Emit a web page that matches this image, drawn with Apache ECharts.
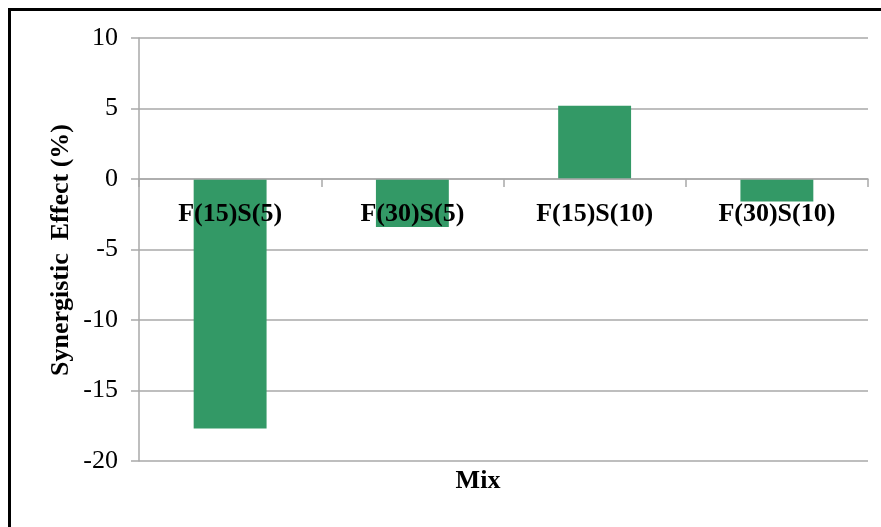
<!DOCTYPE html>
<html>
<head>
<meta charset="utf-8">
<script src="https://cdn.jsdelivr.net/npm/echarts@6/dist/echarts.min.js"></script>
<style>
  html, body { margin: 0; padding: 0; background: #fff; }
  #chart { width: 881px; height: 527px; }
</style>
</head>
<body>
<div id="chart"></div>
<script>
// Synergistic effect of each mix
const categories = ['F(15)S(5)', 'F(30)S(5)', 'F(15)S(10)', 'F(30)S(10)'];
const synergisticEffect = [-17.7, -3.4, 5.2, -1.6];
const yTicks = { min: -20, max: 10, interval: 5 };
const xAxisTitle = 'Mix';
const yAxisTitle = 'Synergistic  Effect (%)';

const serif = '"Liberation Serif", "Times New Roman", serif';
const gridColor = '#a9a9a9';

const gridBox = { left: 139, right: 13, top: 38, bottom: 66 };
const plotHeight = 527 - gridBox.top - gridBox.bottom;
// lift the category axis (line, ticks and labels) up to the zero line
const zeroOffset = -plotHeight * (0 - yTicks.min) / (yTicks.max - yTicks.min);

const chart = echarts.init(document.getElementById('chart'), null, { renderer: 'canvas' });

chart.setOption({
  animation: false,
  backgroundColor: '#ffffff',
  grid: Object.assign({ containLabel: false }, gridBox),
  xAxis: {
    type: 'category',
    data: categories,
    z: 10,
    offset: zeroOffset,
    boundaryGap: true,
    axisLine: { onZero: false, lineStyle: { color: gridColor, width: 1.5 } },
    axisTick: { show: true, length: 8, alignWithLabel: false, lineStyle: { color: gridColor, width: 1.5 } },
    axisLabel: {
      margin: 22,
      color: '#000',
      fontFamily: serif,
      fontWeight: 'bold',
      fontSize: 26
    },
    splitLine: { show: false }
  },
  yAxis: {
    type: 'value',
    min: yTicks.min,
    max: yTicks.max,
    interval: yTicks.interval,
    axisLine: { show: true, lineStyle: { color: gridColor, width: 1.5 } },
    axisTick: { show: true, length: 8, lineStyle: { color: gridColor, width: 1.5 } },
    axisLabel: {
      margin: 21,
      color: '#000',
      fontFamily: serif,
      fontSize: 26
    },
    splitLine: { show: true, lineStyle: { color: gridColor, width: 1.5 } }
  },
  series: [{
    type: 'bar',
    data: synergisticEffect,
    barCategoryGap: '60%',
    itemStyle: { color: '#339966' }
  }],
  graphic: [
    // frame edges along the top and left
    { type: 'rect', shape: { x: 8, y: 8, width: 873, height: 3 }, style: { fill: '#000' }, silent: true },
    { type: 'rect', shape: { x: 8, y: 8, width: 3, height: 519 }, style: { fill: '#000' }, silent: true },
    {
      type: 'text',
      x: 478, y: 481,
      style: {
        text: xAxisTitle,
        font: 'bold 26px ' + serif,
        fill: '#000',
        textAlign: 'center',
        textVerticalAlign: 'middle'
      }
    },
    {
      type: 'text',
      x: 61, y: 250,
      rotation: Math.PI / 2,
      style: {
        text: yAxisTitle,
        font: 'bold 26px ' + serif,
        fill: '#000',
        textAlign: 'center',
        textVerticalAlign: 'middle'
      }
    }
  ]
});
</script>
</body>
</html>
